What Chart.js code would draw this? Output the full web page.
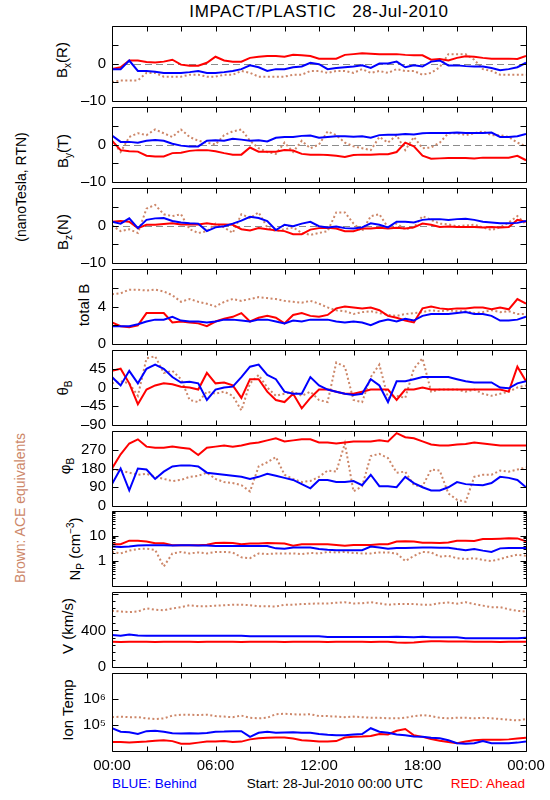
<!DOCTYPE html>
<html>
<head>
<meta charset="utf-8">
<script src="https://cdn.jsdelivr.net/npm/chart.js@4.4.0/dist/chart.umd.min.js"></script>
<style>
body { margin:0; background:#fff; width:550px; height:800px; position:relative; overflow:hidden;
  font-family:"Liberation Sans", Arial, sans-serif; }
.box { position:absolute; left:0; }
.t { position:absolute; white-space:nowrap; line-height:16px; color:#000; }
.r { transform:translate(-50%,-50%) rotate(-90deg); font-size:15px; }
sub, sup { font-size:10px; line-height:0; }
</style>
</head>
<body>
<div class="t" style="left:319px;top:4px;font-size:17px;letter-spacing:0.6px;transform:translateX(-50%)">IMPACT/PLASTIC &nbsp; 28-Jul-2010</div>

<div class="t r" style="left:21px;top:187px;font-size:14px">(nanoTesla, RTN)</div>
<div class="t r" style="left:20px;top:508px;font-size:14px;color:rgb(205,135,105)">Brown: ACE equivalents</div>

<div class="t r" style="left:62px;top:60px">B<sub>x</sub>(R)</div>
<div class="t r" style="left:63px;top:151px">B<sub>y</sub>(T)</div>
<div class="t r" style="left:63px;top:232px">B<sub>z</sub>(N)</div>
<div class="t r" style="left:84px;top:305px">total B</div>
<div class="t r" style="left:63px;top:388px">&theta;<sub>B</sub></div>
<div class="t r" style="left:65px;top:466px">&phi;<sub>B</sub></div>
<div class="t r" style="left:75px;top:549px">N<sub>P</sub> (cm<sup>&minus;3</sup>)</div>
<div class="t r" style="left:68px;top:626px">V (km/s)</div>
<div class="t r" style="left:68px;top:710px">Ion Temp</div>

<div class="t" style="left:112px;top:776px;font-size:13.5px;color:#0000ff">BLUE: Behind</div>
<div class="t" style="right:127px;top:776px;font-size:13.5px">Start: 28-Jul-2010 00:00 UTC</div>
<div class="t" style="right:25px;top:776px;font-size:13.5px;color:#ff0000">RED: Ahead</div>

<script>
// time in hours from 28-Jul-2010 00:00 UTC
var hours = [0,0.5,1,1.5,2,2.5,3,3.5,4,4.5,5,5.5,6,6.5,7,7.5,8,8.5,9,9.5,10,10.5,11,11.5,12,
  12.5,13,13.5,14,14.5,15,15.5,16,16.5,17,17.5,18,18.5,19,19.5,20,20.5,21,21.5,22,22.5,23,23.5,24];
var xTickHours = [2,4,6,8,10,12,14,16,18,20,22];
var timeLabelHours = [0,6,12,18,24];
var timeLabels = ['00:00','06:00','12:00','18:00','00:00'];

// Bx (R), nT
var bxAhead = [-1.5,-1.0,0.8,0.8,0.4,0.3,0.5,1.0,-0.3,-0.6,-0.6,0.2,1.8,0.8,0.5,0.5,1.5,1.8,2.0,2.0,1.8,2.3,2.2,2.0,1.3,
  1.3,1.3,2.3,2.5,2.7,2.6,2.5,2.5,2.5,2.3,2.2,2.2,1.0,1.2,0.8,1.5,1.9,1.8,1.5,1.3,1.3,1.3,1.2,2.0];
var bxBehind = [-1.5,-1.5,0.8,-2.0,-2.0,-2.2,-2.5,-2.5,-2.5,-2.3,-2.0,-2.5,-2.5,-2.3,-2.0,-1.5,-0.5,-1.0,-2.0,-1.5,-1.5,-1.0,-0.8,0.2,-0.2,
  -1.5,-1.2,-1.0,-0.8,-0.5,-1.2,0,0,0.5,-1.0,-0.5,-0.8,0.5,0.8,-0.5,-0.5,-0.7,-0.8,-0.8,-1.2,-1.8,-1.5,-1.0,0.2];
var bxAce = [-5,-4.5,-4.5,-4.5,-2.5,-2.5,-3.5,-3.5,-3.5,-3.0,-3.0,-3.5,-3.5,-3.0,-3.0,-2.0,-2.5,-3.5,-3.5,-3.5,-3.5,-3.0,-3.0,-2.0,-2.0,
  -2.5,-2.0,-2.0,-2.5,-1.5,-2.5,-2.0,-2.5,-1.5,-2.0,-2.0,-3.0,-2.5,-1.0,2.5,2.5,2.5,1.0,-1.5,-2.0,-3.0,-3.0,-3.0,-3.0];

// By (T), nT
var byAhead = [1.0,-1.5,-1.8,-1.9,-3.0,-3.2,-3.2,-2.3,-2.2,-1.7,-1.5,-1.5,-1.8,-2.3,-2.7,-2.7,-0.8,-1.9,-1.9,-1.9,-1.5,-1.6,-2.5,-2.7,-2.7,
  -2.8,-3.0,-3.3,-2.8,-2.7,-2.7,-2.6,-2.6,-2.0,0.5,-0.5,-3.0,-3.8,-3.7,-3.6,-3.6,-3.6,-3.7,-3.5,-3.5,-3.5,-3.5,-3.0,-4.2];
var byBehind = [2.4,0.7,0.7,0.5,1.0,1.2,1.0,0.2,-0.3,-0.5,-0.5,1.0,1.1,1.0,1.5,1.3,1.0,1.1,0.8,1.8,2.0,2.0,2.3,2.4,1.8,
  2.0,2.2,2.2,2.1,2.2,1.8,2.5,2.6,2.6,2.8,2.7,3.0,3.1,3.1,3.1,3.2,3.1,3.1,3.1,3.2,2.0,2.0,2.2,2.8];
var byAce = [1.0,-2.0,2.0,3.0,2.5,4.0,3.0,2.0,4.0,2.0,1.0,0.5,0,2.5,3.5,4.0,1.0,-1.0,-2.0,-2.5,0.5,-2.0,1.0,-1.0,0,
  3.5,2.5,0.5,-0.5,-1.0,-1.5,2.0,0.5,2.5,-1.5,2.0,-1.0,-0.8,0.5,3.0,3.0,2.5,3.0,3.5,2.5,2.5,2.0,0.5,-0.5];

// Bz (N), nT
var bzAhead = [1.0,1.2,1.0,-0.7,0.2,0.2,0.4,0.6,0.3,0.3,0.3,0.6,0.3,0.3,0.2,-1.0,-1.3,-0.7,-1.0,-1.3,-1.5,-2.3,-2.3,-1.1,-0.7,
  -0.6,-0.8,-1.5,-1.5,-0.8,-0.8,-0.6,-0.8,-0.6,-0.8,-0.5,0.5,0.2,-0.4,-0.3,-0.4,-0.4,-0.4,-0.5,-0.4,-0.5,-0.4,1.5,1.0];
var bzBehind = [1.0,0.5,1.9,-0.7,1.5,1.9,2.0,1.2,0.8,0.6,0.5,-1.5,-0.5,-0.2,0.5,1.3,2.3,2.0,1.2,-1.2,0.2,-0.2,0.5,1.0,-0.2,
  -0.5,-0.3,-0.7,-0.8,-0.5,0.6,0.2,-0.5,1.0,1.0,0.8,1.5,1.7,1.7,1.5,1.7,1.8,1.5,1.0,0.8,0.6,0.6,0.7,1.2];
var bzAce = [0,-1.5,-1.0,-2.0,4.5,5.5,3.0,2.5,3.0,-1.0,-2.0,-1.5,0.5,-0.5,-2.0,3.0,2.0,3.5,-0.5,-1.5,-1.0,-0.5,-2.0,-2.5,-2.0,
  -1.5,3.5,3.5,0.5,-1.5,2.5,3.0,-0.5,0.5,-1.0,-0.5,2.5,1.5,0.5,0.3,-0.2,0,0.2,-0.5,-1.2,-0.5,0.8,2.5,0.3];

// total B, nT
var btAhead = [2.3,1.9,1.8,2.0,3.3,3.3,3.3,2.3,2.4,2.3,2.2,1.9,2.4,2.7,2.9,3.3,2.4,2.8,3.0,2.8,2.2,3.1,3.3,3.0,2.9,
  3.1,3.8,4.0,3.9,3.8,3.9,3.6,3.0,2.8,2.5,2.3,3.8,4.0,3.8,3.7,3.8,3.8,3.9,3.9,3.7,3.9,3.7,4.8,4.3];
var btBehind = [1.9,1.9,1.9,2.1,2.4,2.6,2.6,2.9,2.5,2.4,2.4,2.3,2.4,2.6,2.6,2.5,2.4,2.6,2.6,2.4,2.2,2.5,2.4,2.6,2.6,
  2.6,2.4,2.3,2.4,2.3,2.0,2.4,2.6,2.4,2.7,2.5,3.0,3.2,3.2,3.2,3.3,3.4,3.2,3.2,3.0,2.5,2.5,2.6,2.9];
var btAce = [5.3,5.4,5.8,5.8,5.7,5.8,5.6,5.2,4.5,4.8,4.5,4.3,4.0,4.5,4.8,4.6,4.8,5.0,4.9,4.8,4.6,4.5,4.4,4.6,4.3,
  3.9,3.6,3.5,3.2,3.4,3.5,3.3,3.1,3.0,3.2,3.3,3.4,3.6,3.5,3.6,3.5,3.5,3.3,3.4,3.6,3.4,3.5,3.2,3.2];

// theta B, degrees
var thAhead = [40,45,10,-40,-5,5,10,8,2,0,-5,35,10,12,5,-25,20,20,-10,-30,-35,-15,-50,-25,-5,
  -5,-10,-15,-15,-10,-5,-5,-5,-30,-5,-5,0,-5,-5,-5,-5,-5,-5,-5,-5,-5,-10,50,15];
var thBehind = [25,5,40,10,45,55,45,25,12,14,10,-30,-5,0,2,25,50,55,30,20,-10,-15,-15,25,5,
  -5,-10,-15,-18,-15,20,5,-35,15,15,20,25,25,25,25,20,15,12,12,12,0,-2,10,15];
var thAce = [10,15,10,-20,70,75,35,40,20,-30,-35,-10,-15,-10,-20,-55,10,30,0,-20,-15,-10,-20,-10,-30,
  -35,60,50,-30,-35,25,55,-25,-20,-25,45,70,-10,-5,-5,-5,-10,-5,-15,-20,-15,-10,0,5];

// phi B, degrees
var phAhead = [180,248,300,320,285,280,280,285,280,275,245,280,285,290,285,290,300,305,315,325,310,315,320,320,305,
  305,300,305,310,310,310,315,310,350,330,325,310,295,290,290,295,298,305,300,295,290,290,290,290];
var phBehind = [105,180,75,180,175,130,165,190,195,195,190,160,155,150,145,140,130,140,155,145,135,125,105,85,125,
  125,115,115,120,100,150,95,95,90,140,110,90,75,75,90,115,105,102,100,110,140,135,125,90];
var phAce = [175,170,160,150,155,140,130,120,125,140,145,160,130,115,110,100,70,190,210,235,150,130,115,120,140,
  170,165,300,70,95,240,250,230,160,165,100,95,175,170,60,30,20,140,150,150,170,165,175,185];

// proton density, cm^-3
var npAhead = [4.7,4.7,6.5,6.5,6.0,5.1,5.1,4.3,4.3,4.3,4.3,4.5,5.2,5.4,5.2,4.7,5.0,5.0,5.2,5.1,5.0,4.1,4.7,4.7,4.7,
  4.7,4.4,4.1,4.4,4.4,4.4,4.7,4.7,6.0,6.2,6.0,5.4,5.4,5.3,5.5,6.4,6.5,6.3,7.5,7.5,7.8,8.2,8.0,6.2];
var npBehind = [3.8,3.6,3.8,4.2,4.3,4.3,4.3,4.2,4.3,4.3,4.2,4.2,4.0,4.0,4.0,4.0,4.0,4.0,4.0,3.2,3.1,3.5,3.5,3.5,3.0,
  2.8,2.7,2.7,2.7,2.7,3.8,3.5,3.1,3.3,3.3,3.4,3.5,3.5,3.4,3.4,3.0,2.7,3.0,2.6,2.3,3.2,3.3,3.3,3.3];
var npAce = [2.3,2.0,2.6,3.0,3.1,2.8,0.6,2.0,2.3,2.0,2.2,2.0,2.3,2.3,2.2,1.4,1.3,2.0,1.9,2.0,2.0,2.0,1.9,2.1,2.0,
  2.3,2.2,2.3,2.1,2.0,2.0,2.2,2.2,2.0,1.0,1.6,2.3,2.2,1.5,1.6,1.3,1.2,1.3,1.1,1.0,1.2,1.5,1.8,1.6];

// bulk speed, km/s
var vAhead = [275,274,276,275,275,274,275,276,275,275,274,275,276,275,275,274,275,276,275,275,274,275,276,275,275,
  274,275,276,275,275,274,275,276,268,265,268,275,282,282,280,280,278,276,275,275,274,275,276,275];
var vBehind = [349,342,355,345,342,342,342,342,342,342,342,342,342,342,342,342,336,336,336,336,336,336,336,336,336,
  327,327,327,327,327,327,327,327,330,327,325,330,325,325,325,325,315,315,315,315,315,315,315,320];
var vAce = [614,607,600,607,641,627,620,641,654,675,664,664,671,675,681,681,675,664,664,661,681,681,688,692,695,
  695,702,708,695,698,708,695,681,688,688,688,681,681,698,705,692,708,688,671,654,654,631,614,607];

// ion temperature, K
var tAhead = [2.2e4,2.2e4,2.1e4,2.2e4,2.3e4,2.5e4,2.6e4,2.4e4,1.9e4,1.9e4,2.1e4,2.3e4,2.3e4,2.4e4,2.2e4,2.3e4,2.8e4,3.1e4,3.2e4,3.3e4,3.3e4,3.0e4,2.6e4,2.5e4,2.3e4,
  2.3e4,2.4e4,3.3e4,3.5e4,3.6e4,3.8e4,4.5e4,4.3e4,6.0e4,7.0e4,4.0e4,3.5e4,2.9e4,2.5e4,2.2e4,2.0e4,2.3e4,2.6e4,2.7e4,2.7e4,2.7e4,2.8e4,3.0e4,3.2e4];
var tBehind = [7.5e4,5.5e4,5.3e4,4.5e4,5.8e4,6.0e4,5.5e4,4.8e4,4.7e4,4.8e4,4.7e4,4.9e4,5.5e4,5.6e4,5.8e4,5.8e4,3.5e4,5.0e4,5.5e4,5.0e4,5.2e4,5.3e4,5.0e4,5.0e4,4.5e4,
  4.2e4,4.0e4,4.0e4,4.3e4,4.5e4,7.5e4,5.5e4,5.0e4,4.3e4,4.0e4,3.6e4,3.5e4,3.2e4,3.1e4,2.6e4,2.0e4,1.9e4,2.0e4,2.4e4,2.0e4,2.0e4,2.0e4,2.1e4,2.3e4];
var tAce = [2.0e5,2.1e5,2.0e5,2.0e5,1.8e5,1.7e5,1.8e5,2.3e5,2.5e5,2.5e5,2.4e5,2.5e5,2.2e5,2.1e5,2.0e5,2.3e5,1.9e5,1.8e5,1.9e5,2.6e5,2.7e5,2.6e5,2.5e5,2.6e5,2.2e5,
  2.2e5,2.1e5,2.0e5,2.1e5,2.0e5,1.9e5,1.9e5,1.8e5,1.8e5,1.9e5,2.2e5,2.4e5,2.2e5,1.9e5,1.8e5,1.9e5,1.9e5,1.8e5,1.9e5,1.8e5,1.7e5,1.6e5,1.5e5,1.7e5];

function logMinor(lo, hi) {
  var out = [];
  for (var d = lo; d < hi; d *= 10)
    for (var m = 2; m <= 9; m++) out.push(d * m);
  return out;
}
function dashNum(v) { return v < 0 ? '\u2013' + Math.abs(v) : String(v); }

var panels = [
  { a: bxAhead, b: bxBehind, c: bxAce, type: 'linear', min: -10, max: 10, zero: true,
    major: [-10,-5,0,5,10], minor: [], labels: [-10,0], fmt: dashNum },
  { a: byAhead, b: byBehind, c: byAce, type: 'linear', min: -10, max: 10, zero: true,
    major: [-10,-5,0,5,10], minor: [], labels: [-10,0], fmt: dashNum },
  { a: bzAhead, b: bzBehind, c: bzAce, type: 'linear', min: -10, max: 10, zero: true,
    major: [-10,-5,0,5,10], minor: [], labels: [-10,0], fmt: dashNum },
  { a: btAhead, b: btBehind, c: btAce, type: 'linear', min: 0, max: 8,
    major: [0,2,4,6,8], minor: [], labels: [0,4], fmt: dashNum },
  { a: thAhead, b: thBehind, c: thAce, type: 'linear', min: -90, max: 90,
    major: [-90,-45,0,45,90], minor: [], labels: [-90,-45,0,45], fmt: dashNum },
  { a: phAhead, b: phBehind, c: phAce, type: 'linear', min: 0, max: 360,
    major: [0,90,180,270,360], minor: [], labels: [0,90,180,270], fmt: dashNum },
  { a: npAhead, b: npBehind, c: npAce, type: 'logarithmic', min: 0.1, max: 100,
    major: [0.1,1,10,100], minor: logMinor(0.1, 100), labels: [1,10], fmt: dashNum },
  { a: vAhead, b: vBehind, c: vAce, type: 'linear', min: 0, max: 820,
    major: [0,400,800], minor: [80,160,240,320,480,560,640,720], labels: [0,400], fmt: dashNum },
  { a: tAhead, b: tBehind, c: tAce, type: 'logarithmic', min: 1e4, max: 1e7,
    major: [1e4,1e5,1e6,1e7], minor: [], labels: [1e5,1e6],
    fmt: function (v) { return v === 1e5 ? '10\u2075' : '10\u2076'; } }
];

var panelTops = [23,104,185,266,347,428,508,589,670];
var PH = 81, PAD = 12, BOTTOM_EXTRA = 30;
var brown = 'rgb(205,135,105)';

function pts(arr) {
  return hours.map(function (h, i) { return { x: h, y: arr[i] }; });
}

function makeFrame(p, last) {
  return {
    id: 'frame',
    beforeDatasetsDraw: function (chart) {
      if (!p.zero) return;
      var ctx = chart.ctx, a = chart.chartArea;
      var y0 = Math.round(chart.scales.y.getPixelForValue(0)) + 0.5;
      ctx.save();
      ctx.strokeStyle = '#8c8c8c';
      ctx.lineWidth = 1;
      ctx.setLineDash([7, 4]);
      ctx.beginPath(); ctx.moveTo(a.left, y0); ctx.lineTo(a.right, y0); ctx.stroke();
      ctx.restore();
    },
    afterDatasetsDraw: function (chart) {
      var ctx = chart.ctx, a = chart.chartArea;
      var xs = chart.scales.x, ys = chart.scales.y;
      var L = Math.round(a.left) + 0.5, R = Math.round(a.right) + 0.5;
      var T = Math.round(a.top) + 0.5, B = Math.round(a.bottom) + 0.5;
      ctx.save();
      ctx.strokeStyle = '#000';
      ctx.lineWidth = 1;
      ctx.beginPath();
      ctx.rect(L, T, R - L, B - T);
      xTickHours.forEach(function (h) {
        var x = Math.round(xs.getPixelForValue(h)) + 0.5;
        ctx.moveTo(x, T); ctx.lineTo(x, T + 5);
        ctx.moveTo(x, B); ctx.lineTo(x, B - 5);
      });
      p.major.forEach(function (v) {
        var y = Math.round(ys.getPixelForValue(v)) + 0.5;
        ctx.moveTo(L, y); ctx.lineTo(L + 6, y);
        ctx.moveTo(R, y); ctx.lineTo(R - 6, y);
      });
      p.minor.forEach(function (v) {
        var y = Math.round(ys.getPixelForValue(v)) + 0.5;
        ctx.moveTo(L, y); ctx.lineTo(L + 3, y);
        ctx.moveTo(R, y); ctx.lineTo(R - 3, y);
      });
      ctx.stroke();
      if (last) {
        ctx.fillStyle = '#000';
        ctx.font = '15px "Liberation Sans", Arial, sans-serif';
        ctx.textAlign = 'center';
        ctx.textBaseline = 'alphabetic';
        timeLabelHours.forEach(function (h, i) {
          ctx.fillText(timeLabels[i], xs.getPixelForValue(h), B + 18);
        });
      }
      ctx.restore();
    }
  };
}

panels.forEach(function (p, i) {
  var last = i === panels.length - 1;
  var h = PH + PAD + (last ? PAD + BOTTOM_EXTRA : PAD);
  var box = document.createElement('div');
  box.className = 'box';
  box.style.top = (panelTops[i] - PAD) + 'px';
  box.style.width = '550px';
  box.style.height = h + 'px';
  var cv = document.createElement('canvas');
  cv.width = 550; cv.height = h;
  box.appendChild(cv);
  document.body.appendChild(box);

  new Chart(cv.getContext('2d'), {
    type: 'line',
    data: {
      datasets: [
        { data: pts(p.b), borderColor: '#0000ff', borderWidth: 2, pointRadius: 0, order: 1 },
        { data: pts(p.a), borderColor: '#ff0000', borderWidth: 2, pointRadius: 0, order: 2 },
        { data: pts(p.c), borderColor: brown, borderWidth: 2, borderDash: [2, 2.5], pointRadius: 0, order: 3 }
      ]
    },
    options: {
      responsive: false,
      animation: false,
      events: [],
      layout: { padding: { left: 0, right: 24, top: PAD, bottom: last ? PAD + BOTTOM_EXTRA : PAD } },
      plugins: { legend: { display: false }, tooltip: { enabled: false } },
      scales: {
        x: { type: 'linear', min: 0, max: 24, display: false },
        y: {
          type: p.type, min: p.min, max: p.max,
          grid: { display: false, drawTicks: false },
          border: { display: false },
          afterBuildTicks: function (s) { s.ticks = p.labels.map(function (v) { return { value: v }; }); },
          afterFit: function (s) { s.width = 112; },
          ticks: {
            padding: 6, color: '#000', autoSkip: false, maxRotation: 0,
            font: { family: '"Liberation Sans", Arial, sans-serif', size: 15 },
            callback: function (v) { return p.fmt(v); }
          }
        }
      }
    },
    plugins: [makeFrame(p, last)]
  });
});
</script>
</body>
</html>
